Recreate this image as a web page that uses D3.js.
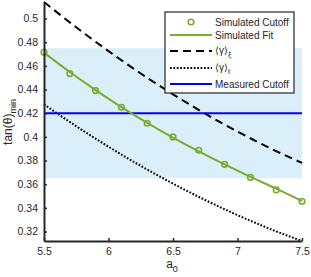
<!DOCTYPE html>
<html><head><meta charset="utf-8">
<script src="https://cdn.jsdelivr.net/npm/d3@7"></script>
<style>body{margin:0;background:#fff}svg{display:block;font-family:"Liberation Sans",Arial,sans-serif}</style>
</head><body><svg id="c" width="311" height="277"></svg>
<script>
const simX = [5.5,5.7,5.9,6.1,6.3,6.5,6.7,6.9,7.1,7.3,7.5];
const simCutoff = [0.4715,0.4535,0.4391,0.4250,0.4115,0.4000,0.3887,0.3768,0.3658,0.3552,0.3456];
const simFit = [0.4712,0.4548,0.4395,0.4252,0.4119,0.3994,0.3877,0.3767,0.3662,0.3563,0.3458];
const curveX = [5.5,5.75,6.0,6.25,6.5,6.75,7.0,7.25,7.5];
const gammaXi = [0.514,0.4926,0.4725,0.4536,0.436,0.4196,0.4045,0.3906,0.378];
const gammaT = [0.4275,0.4090,0.3917,0.3755,0.3605,0.3466,0.3339,0.3223,0.3120];
const measured = 0.42;
const band = [0.365,0.475];
const xTicks = [5.5,6,6.5,7,7.5];
const yTicks = [0.32,0.34,0.36,0.38,0.4,0.42,0.44,0.46,0.48,0.5];

const svg = d3.select("#c");
const x = d3.scaleLinear().domain([5.5,7.5]).range([44,302]);
const y = d3.scaleLinear().domain([0.3120,0.514]).range([241,2]);
const green = "#77ac30", axc = "#262626";

svg.append("rect").attr("x",x(5.5)).attr("width",x(7.5)-x(5.5))
  .attr("y",y(band[1])).attr("height",y(band[0])-y(band[1])).attr("fill","#dbeffa");

const line = d3.line().x(d=>x(d[0])).y(d=>y(d[1])).curve(d3.curveMonotoneX);
svg.append("path").attr("d",line(curveX.map((v,i)=>[v,gammaXi[i]])))
  .attr("fill","none").attr("stroke","#000").attr("stroke-width",2).attr("stroke-dasharray","8,5");
svg.append("path").attr("d",line(curveX.map((v,i)=>[v,gammaT[i]])))
  .attr("fill","none").attr("stroke","#000").attr("stroke-width",2).attr("stroke-dasharray","1.7,1.7");
svg.append("line").attr("x1",x(5.5)).attr("x2",x(7.5)).attr("y1",y(measured)).attr("y2",y(measured))
  .attr("stroke","#0000ff").attr("stroke-width",2);
svg.append("path").attr("d",line(simX.map((v,i)=>[v,simFit[i]])))
  .attr("fill","none").attr("stroke",green).attr("stroke-width",2);
svg.selectAll("circle.s").data(simX).join("circle").attr("class","s")
  .attr("cx",d=>x(d)).attr("cy",(d,i)=>y(simCutoff[i])).attr("r",2.8)
  .attr("fill","none").attr("stroke",green).attr("stroke-width",1.6);

// axes
const xa = svg.append("g").attr("transform","translate(0,241)")
  .call(d3.axisBottom(x).tickValues(xTicks).tickFormat(d3.format("")).tickSizeInner(-3).tickSizeOuter(0).tickPadding(7));
const ya = svg.append("g").attr("transform","translate(44,0)")
  .call(d3.axisLeft(y).tickValues(yTicks).tickFormat(d=>String(+d.toFixed(2))).tickSizeInner(-3).tickSizeOuter(0).tickPadding(6));
[xa,ya].forEach(g=>{
  g.select(".domain").attr("stroke",axc).attr("stroke-width",2);
  g.selectAll(".tick line").attr("stroke",axc).attr("stroke-width",1.5);
  g.selectAll("text").attr("fill",axc).attr("font-size",10.5).attr("font-family","Liberation Sans,Arial,sans-serif");
});

// axis labels
const xl = svg.append("text").attr("x",172).attr("y",268).attr("text-anchor","middle").attr("font-size",12).attr("fill",axc);
xl.append("tspan").text("a");
xl.append("tspan").attr("dy",3.5).attr("font-size",9).text("0");
const yl = svg.append("text").attr("transform","translate(12,122) rotate(-90)").attr("text-anchor","middle").attr("font-size",12).attr("fill",axc);
yl.append("tspan").text("tan(θ)");
yl.append("tspan").attr("dy",3.5).attr("font-size",9).text("min");

// legend
const lg = svg.append("g");
lg.append("rect").attr("x",165).attr("y",12).attr("width",129).attr("height",81)
  .attr("fill","#fff").attr("stroke",axc).attr("stroke-width",1.2);
const rows = [22,35,51,68,84];
const lx1=170, lx2=212, tx=215;
lg.append("circle").attr("cx",(lx1+lx2)/2).attr("cy",rows[0]).attr("r",2.8).attr("fill","none").attr("stroke",green).attr("stroke-width",1.6);
lg.append("line").attr("x1",lx1).attr("x2",lx2).attr("y1",rows[1]).attr("y2",rows[1]).attr("stroke",green).attr("stroke-width",2);
lg.append("line").attr("x1",lx1).attr("x2",lx2).attr("y1",rows[2]).attr("y2",rows[2]).attr("stroke","#000").attr("stroke-width",2).attr("stroke-dasharray","8,5");
lg.append("line").attr("x1",lx1).attr("x2",lx2).attr("y1",rows[3]).attr("y2",rows[3]).attr("stroke","#000").attr("stroke-width",2).attr("stroke-dasharray","1.7,1.7");
lg.append("line").attr("x1",lx1).attr("x2",lx2).attr("y1",rows[4]).attr("y2",rows[4]).attr("stroke","#0000ff").attr("stroke-width",2);
const lab = (row, main, sub) => {
  const t = lg.append("text").attr("x",tx).attr("y",row+3.6).attr("font-size",10).attr("fill",axc);
  t.append("tspan").text(main);
  if (sub) t.append("tspan").attr("dy",3).attr("font-size",7.5).text(sub);
};
lab(rows[0],"Simulated Cutoff");
lab(rows[1],"Simulated Fit");
lab(rows[2]-1,"⟨γ⟩","ξ");
lab(rows[3]-1,"⟨γ⟩","t");
lab(rows[4],"Measured Cutoff");
</script></body></html>
